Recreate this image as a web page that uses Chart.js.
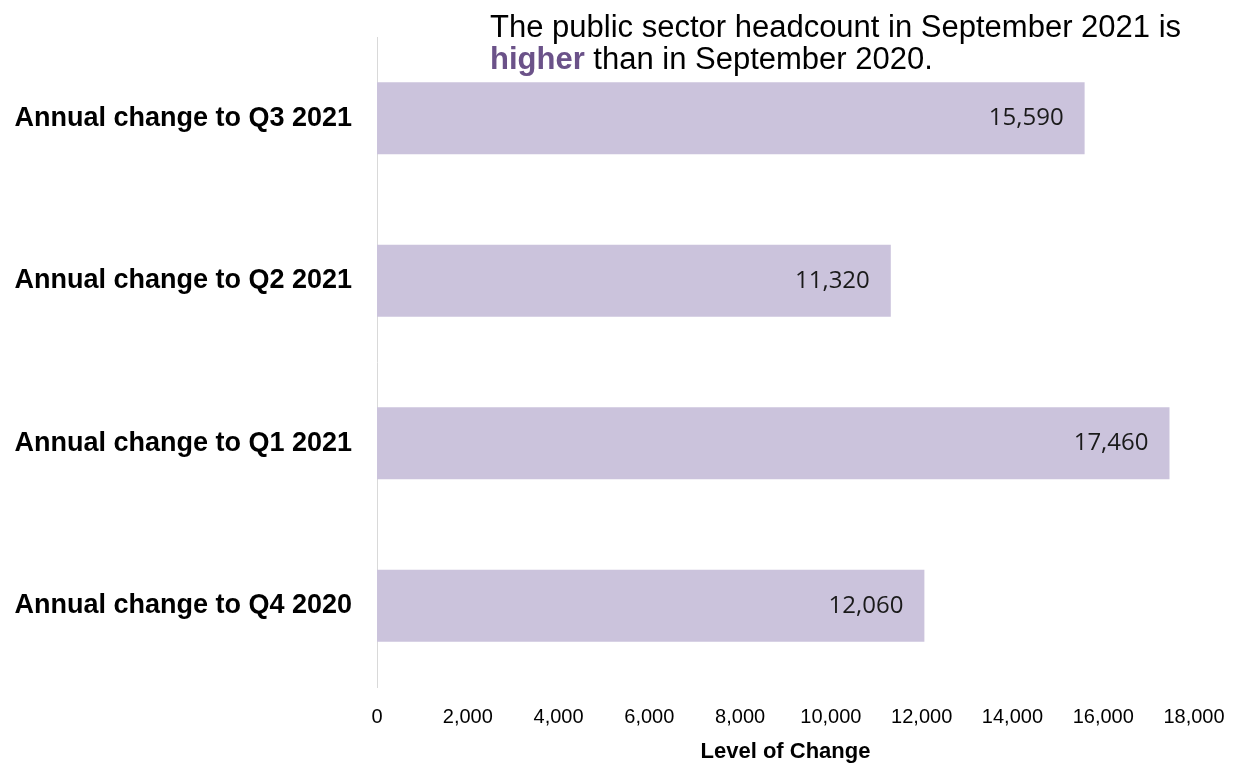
<!DOCTYPE html>
<html>
<head>
<meta charset="utf-8">
<script src="https://cdn.jsdelivr.net/npm/chart.js@4"></script>
<style>
  html, body { margin: 0; padding: 0; background: #fff; }
  #wrap { width: 1234px; height: 765px; position: relative; }
</style>
</head>
<body>
<div id="wrap"><canvas id="changeChart"></canvas></div>
<script>
// Annual change in public sector headcount, latest quarter first
const categories = [
    'Annual change to Q3 2021',
    'Annual change to Q2 2021',
    'Annual change to Q1 2021',
    'Annual change to Q4 2020'
];
const changeValues = [15590, 11320, 17460, 12060];
const axisMin = 0;
const axisMax = 18000;
const axisStep = 2000;

const barColour = '#cbc3dc';
const accentColour = '#6b5289';

// Headline text above the bars ("higher" in bold purple)
const headline = {
    id: 'headline',
    afterDraw(chart) {
        const ctx = chart.ctx;
        const regular = '31px "Liberation Sans", Arial, sans-serif';
        ctx.save();
        ctx.textBaseline = 'alphabetic';
        ctx.textAlign = 'left';
        ctx.fillStyle = '#000';
        ctx.font = regular;
        ctx.fillText('The public sector headcount in September 2021 is', 490, 37);
        ctx.font = 'bold 31px "Liberation Sans", Arial, sans-serif';
        ctx.fillStyle = accentColour;
        ctx.fillText('higher', 490, 69);
        const w = ctx.measureText('higher').width;
        ctx.font = regular;
        ctx.fillStyle = '#000';
        ctx.fillText(' than in September 2020.', 490 + w, 69);
        ctx.restore();
    }
};

// Value labels inside the end of each bar
const barValues = {
    id: 'barValues',
    afterDatasetsDraw(chart) {
        const ctx = chart.ctx;
        const meta = chart.getDatasetMeta(0);
        ctx.save();
        ctx.font = '24px "Open Sans", sans-serif';
        ctx.fillStyle = '#1a1a1a';
        ctx.textAlign = 'right';
        ctx.textBaseline = 'middle';
        meta.data.forEach((bar, i) => {
            const v = chart.data.datasets[0].data[i];
            ctx.fillText(v.toLocaleString('en-GB'), bar.x - 21, bar.y);
        });
        ctx.restore();
    }
};

const ctx = document.getElementById('changeChart').getContext('2d');

// tick gaps go through tickLength (grid hidden) so they don't pad the chart area
new Chart(ctx, {
    type: 'bar',
    data: {
        labels: categories,
        datasets: [{
            data: changeValues,
            backgroundColor: barColour,
            borderWidth: 0,
            categoryPercentage: 1,
            barPercentage: 0.443
        }]
    },
    options: {
        indexAxis: 'y',
        responsive: true,
        maintainAspectRatio: false,
        animation: false,
        devicePixelRatio: 1,
        layout: { padding: { top: 37, right: 40, bottom: 0, left: 0 } },
        plugins: {
            legend: { display: false },
            tooltip: { enabled: false }
        },
        scales: {
            x: {
                min: axisMin,
                max: axisMax,
                afterFit(scale) { scale.height = 78; },
                grid: { display: false, drawTicks: true, tickLength: 18 },
                border: { display: false },
                ticks: {
                    stepSize: axisStep,
                    padding: 0,
                    color: '#000',
                    font: { family: '"Liberation Sans", Arial, sans-serif', size: 20 },
                    callback: v => v.toLocaleString('en-GB')
                },
                title: {
                    display: true,
                    text: 'Level of Change',
                    color: '#000',
                    padding: { top: 0, bottom: 0 },
                    font: { family: '"Liberation Sans", Arial, sans-serif', size: 22, weight: 'bold' }
                }
            },
            y: {
                afterFit(scale) { scale.width = 377; },
                grid: { display: false, drawTicks: true, tickLength: 25 },
                border: { display: true, color: '#d9d9d9', width: 1 },
                ticks: {
                    padding: 0,
                    color: '#000',
                    font: { family: '"Liberation Sans", Arial, sans-serif', size: 27, weight: 'bold' }
                }
            }
        }
    },
    plugins: [headline, barValues]
});
</script>
</body>
</html>
